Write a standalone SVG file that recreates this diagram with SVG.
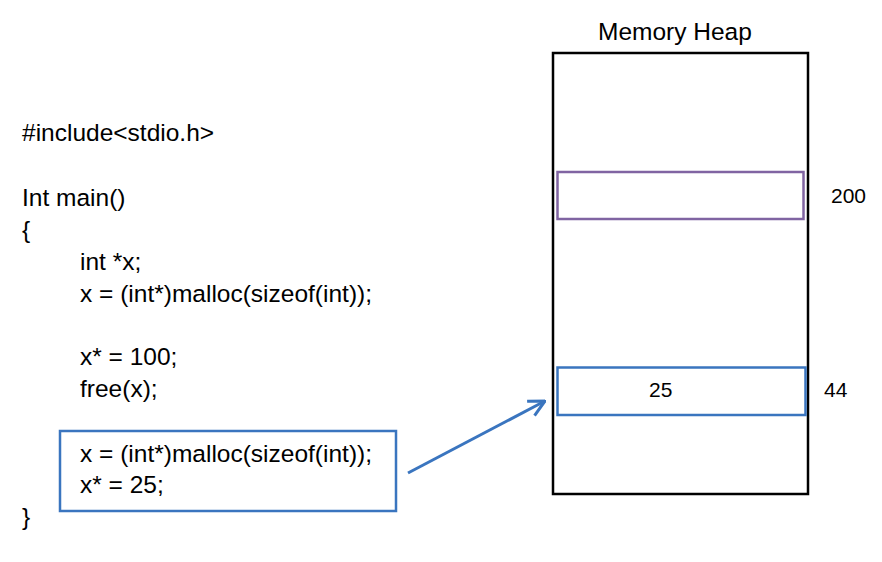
<svg xmlns="http://www.w3.org/2000/svg" width="882" height="562" viewBox="0 0 882 562">
<style>
text{font-family:"Liberation Sans",Arial,sans-serif;fill:#000}
.code{font-size:24.5px}
.num{font-size:21px}
.box{fill:none;stroke-width:2.5}
</style>
<defs>
<marker id="arr" viewBox="0 0 20 20" refX="19" refY="10" markerWidth="20" markerHeight="20" markerUnits="userSpaceOnUse" orient="auto">
<path d="M3,2 L19,10 L3,18" fill="none" stroke="#3a75bf" stroke-width="3"/>
</marker>
</defs>
<rect width="882" height="562" fill="#fff"/>
<g id="code">
<text class="code" x="22" y="141">#include&lt;stdio.h&gt;</text>
<text class="code" x="22" y="206">Int main()</text>
<text class="code" x="22" y="238">{</text>
<text class="code" x="80" y="270">int *x;</text>
<text class="code" x="80" y="302">x = (int*)malloc(sizeof(int));</text>
<text class="code" x="80" y="365">x* = 100;</text>
<text class="code" x="80" y="397">free(x);</text>
<text class="code" x="22" y="525">}</text>
</g>
<g id="highlight">
<rect class="box" x="60" y="431" width="336" height="80" stroke="#3a75bf"/>
<text class="code" x="80" y="462">x = (int*)malloc(sizeof(int));</text>
<text class="code" x="80" y="493">x* = 25;</text>
</g>
<g id="heap">
<text class="code" x="598" y="40">Memory Heap</text>
<rect x="553" y="53" width="255" height="441" fill="none" stroke="#000" stroke-width="2.5"/>
</g>
<g id="block200">
<rect class="box" x="557.5" y="172" width="246" height="47" stroke="#8064a2"/>
<text class="num" x="831" y="203">200</text>
</g>
<g id="block44">
<rect class="box" x="557.5" y="367.5" width="248" height="47.5" stroke="#3a75bf"/>
<text class="num" x="649" y="397">25</text>
<text class="num" x="824" y="397">44</text>
</g>
<g id="connectors">
<line x1="408" y1="473" x2="545" y2="401" stroke="#3a75bf" stroke-width="3" marker-end="url(#arr)"/>
</g>
</svg>
